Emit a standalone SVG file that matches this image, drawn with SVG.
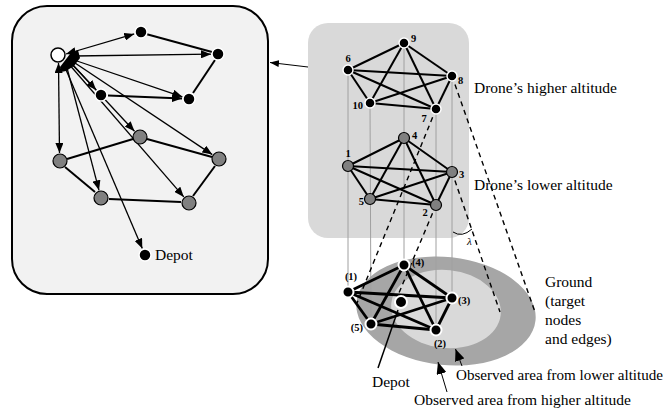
<svg xmlns="http://www.w3.org/2000/svg" width="670" height="414" viewBox="0 0 670 414">
<defs>
<marker id="ah" markerUnits="userSpaceOnUse" markerWidth="10" markerHeight="8" refX="10" refY="4" orient="auto-start-reverse">
<path d="M0,0 L10,4 L0,8 z" fill="#000"/>
</marker>
<marker id="ahs" markerUnits="userSpaceOnUse" markerWidth="9" markerHeight="7" refX="9" refY="3.5" orient="auto">
<path d="M0,0 L9,3.5 L0,7 z" fill="#000"/>
</marker>
<marker id="ahb" markerUnits="userSpaceOnUse" markerWidth="12" markerHeight="10" refX="12" refY="5" orient="auto">
<path d="M0,0 L12,5 L0,10 z" fill="#000"/>
</marker>
</defs>
<style>
.txt{font-family:"Liberation Serif","Times New Roman",serif;font-size:15.5px;fill:#000}
.num{font-family:"Liberation Serif","Times New Roman",serif;font-size:10.5px;font-weight:bold;fill:#000}
.ray{stroke:#000;stroke-width:1.3;fill:none;marker-end:url(#ah)}
.tour{stroke:#000;stroke-width:2;fill:none}
.k5{stroke:#000;stroke-width:2;fill:none}
.gk5{stroke:#000;stroke-width:2.8;fill:none}
.vert{stroke:#a0a0a0;stroke-width:1;fill:none}
.dash{stroke:#000;stroke-width:1.4;fill:none;stroke-dasharray:5 4}
.bn{fill:#000;stroke:#fff;stroke-width:1.5}
.gn{fill:#808080;stroke:#000;stroke-width:1.2}
.wn{fill:#fff;stroke:#000;stroke-width:1.5}
.gbn{fill:#000;stroke:#fff;stroke-width:2}
</style>

<!-- backgrounds -->
<g id="left-panel">
<rect x="12" y="6" width="256" height="288" rx="35" ry="35" fill="#f2f2f2" stroke="#000" stroke-width="2"/>
</g>
<g id="altitude-panel">
<rect x="308" y="23" width="161" height="215" rx="20" ry="20" fill="#d9d9d9"/>
</g>
<g id="ground-areas">
<ellipse cx="446" cy="311" rx="90" ry="54" fill="#a6a6a6" transform="rotate(6 446 311)"/>
<ellipse cx="446" cy="309" rx="55" ry="39" fill="#d9d9d9" transform="rotate(6 446 309)"/>
</g>

<!-- connectors -->
<g id="connectors">
<!-- left panel rays -->
<line class="ray" x1="74" y1="56" x2="211" y2="54.2"/>
<line class="ray" x1="74" y1="60" x2="182.4" y2="96.8"/>
<line class="ray" x1="70" y1="62" x2="96.2" y2="89.9"/>
<line class="ray" x1="70" y1="62" x2="134.5" y2="131.2"/>
<line class="ray" x1="72" y1="61" x2="212.3" y2="154.6"/>
<line class="ray" x1="66" y1="64" x2="99" y2="190.3"/>
<line class="ray" x1="68" y1="63" x2="183.8" y2="196.9"/>
<line class="ray" x1="64" y1="65" x2="142.3" y2="248.6"/>
<line class="ray" x1="66" y1="54" x2="134.3" y2="33.9" style="marker-start:url(#ah)"/>
<line class="ray" x1="58.5" y1="63" x2="59.5" y2="153" style="marker-start:url(#ah)"/>
<path d="M70,54 L78,50 L80,58 L74,66 L66,71 L61,72 L60,67 Z" fill="#000"/>
<!-- left panel tour edges -->
<line class="tour" x1="146" y1="34" x2="212" y2="52"/>
<line class="tour" x1="215" y1="60" x2="193" y2="93"/>
<line class="tour" x1="108" y1="95.5" x2="182" y2="98.5" style="marker-end:url(#ah)"/>
<line class="tour" x1="67" y1="159" x2="133" y2="139"/>
<line class="tour" x1="147" y1="139" x2="212" y2="157"/>
<line class="tour" x1="65" y1="167" x2="95" y2="192"/>
<line class="tour" x1="109" y1="199" x2="181" y2="202"/>
<line class="tour" x1="215" y1="166" x2="193" y2="196"/>
<!-- arrow between panels -->
<line x1="308" y1="67" x2="270" y2="62.5" stroke="#000" stroke-width="1" marker-end="url(#ahs)"/>
<!-- vertical projection lines -->
<line class="vert" x1="348" y1="70" x2="348" y2="292"/>
<line class="vert" x1="370" y1="103" x2="371" y2="324"/>
<line class="vert" x1="404" y1="43" x2="404" y2="265"/>
<line class="vert" x1="436" y1="109" x2="436" y2="330"/>
<line class="vert" x1="452" y1="76" x2="452" y2="298"/>
<!-- cone dashed lines -->
<line class="dash" x1="436" y1="109" x2="357" y2="303"/>
<line class="dash" x1="436" y1="205" x2="396" y2="300"/>
<line class="dash" x1="452" y1="76" x2="535" y2="312"/>
<line class="dash" x1="452" y1="172" x2="500" y2="312"/>
<path d="M453,232 Q462,238 472,229" fill="none" stroke="#000" stroke-width="1"/>
<!-- higher altitude K5 -->
<g class="k5">
<line x1="404" y1="43" x2="348" y2="70"/>
<line x1="404" y1="43" x2="452" y2="76"/>
<line x1="404" y1="43" x2="370" y2="103"/>
<line x1="404" y1="43" x2="436" y2="109"/>
<line x1="348" y1="70" x2="452" y2="76"/>
<line x1="348" y1="70" x2="370" y2="103"/>
<line x1="348" y1="70" x2="436" y2="109"/>
<line x1="452" y1="76" x2="370" y2="103"/>
<line x1="452" y1="76" x2="436" y2="109"/>
<line x1="370" y1="103" x2="436" y2="109"/>
</g>
<!-- lower altitude K5 -->
<g class="k5">
<line x1="404" y1="138" x2="348" y2="166"/>
<line x1="404" y1="138" x2="452" y2="172"/>
<line x1="404" y1="138" x2="370" y2="199"/>
<line x1="404" y1="138" x2="436" y2="205"/>
<line x1="348" y1="166" x2="452" y2="172"/>
<line x1="348" y1="166" x2="370" y2="199"/>
<line x1="348" y1="166" x2="436" y2="205"/>
<line x1="452" y1="172" x2="370" y2="199"/>
<line x1="452" y1="172" x2="436" y2="205"/>
<line x1="370" y1="199" x2="436" y2="205"/>
</g>
<!-- ground K5 -->
<g class="gk5">
<line x1="404" y1="265" x2="348" y2="292"/>
<line x1="404" y1="265" x2="452" y2="298"/>
<line x1="404" y1="265" x2="371" y2="324"/>
<line x1="404" y1="265" x2="436" y2="330"/>
<line x1="348" y1="292" x2="452" y2="298"/>
<line x1="348" y1="292" x2="371" y2="324"/>
<line x1="348" y1="292" x2="436" y2="330"/>
<line x1="452" y1="298" x2="371" y2="324"/>
<line x1="452" y1="298" x2="436" y2="330"/>
<line x1="371" y1="324" x2="436" y2="330"/>
</g>
<!-- label pointers -->
<line x1="398" y1="310" x2="378" y2="368" stroke="#000" stroke-width="1.5"/>
<line x1="462" y1="366" x2="455.5" y2="349" stroke="#000" stroke-width="1" marker-end="url(#ahb)"/>
<line x1="447" y1="392" x2="438" y2="362" stroke="#000" stroke-width="1" marker-end="url(#ahb)"/>
</g>

<!-- left panel nodes -->
<g id="node-start"><circle class="wn" cx="58" cy="55" r="7"/></g>
<g id="node-a"><circle class="bn" cx="141" cy="32" r="6"/></g>
<g id="node-b"><circle class="bn" cx="218" cy="54" r="6"/></g>
<g id="node-c"><circle class="bn" cx="189" cy="99" r="6"/></g>
<g id="node-d"><circle class="bn" cx="101" cy="95" r="6"/></g>
<g id="node-e"><circle class="gn" cx="140" cy="137" r="7"/></g>
<g id="node-f"><circle class="gn" cx="60" cy="161" r="7"/></g>
<g id="node-g"><circle class="gn" cx="219" cy="159" r="7"/></g>
<g id="node-h"><circle class="gn" cx="101" cy="198" r="7"/></g>
<g id="node-i"><circle class="gn" cx="189" cy="203" r="7"/></g>
<g id="node-depot-left"><circle class="bn" cx="145" cy="255" r="6"/><text class="txt" x="155" y="260">Depot</text></g>

<!-- higher altitude nodes -->
<g id="node-9"><circle class="bn" cx="404" cy="43" r="5"/><text class="num" x="411" y="42">9</text></g>
<g id="node-6"><circle class="bn" cx="348" cy="70" r="5"/><text class="num" x="348" y="62" text-anchor="middle">6</text></g>
<g id="node-8"><circle class="bn" cx="452" cy="76" r="5"/><text class="num" x="458" y="84">8</text></g>
<g id="node-10"><circle class="bn" cx="370" cy="103" r="5"/><text class="num" x="363" y="109" text-anchor="end">10</text></g>
<g id="node-7"><circle class="bn" cx="436" cy="109" r="5"/><text class="num" x="424" y="122" text-anchor="middle">7</text></g>

<!-- lower altitude nodes -->
<g id="node-4"><circle class="gn" cx="404" cy="138" r="5.5"/><text class="num" x="412" y="139">4</text></g>
<g id="node-1"><circle class="gn" cx="348" cy="166" r="5.5"/><text class="num" x="348" y="157" text-anchor="middle">1</text></g>
<g id="node-3"><circle class="gn" cx="452" cy="172" r="5.5"/><text class="num" x="459" y="178">3</text></g>
<g id="node-5"><circle class="gn" cx="370" cy="199" r="5.5"/><text class="num" x="364" y="205" text-anchor="end">5</text></g>
<g id="node-2"><circle class="gn" cx="436" cy="205" r="5.5"/><text class="num" x="425" y="216" text-anchor="middle">2</text></g>

<!-- ground nodes -->
<g id="node-g4"><circle class="gbn" cx="404" cy="265" r="5.5"/><text class="num" x="412" y="266">(4)</text></g>
<g id="node-g1"><circle class="gbn" cx="348" cy="292" r="5.5"/><text class="num" x="351" y="280" text-anchor="middle">(1)</text></g>
<g id="node-g3"><circle class="gbn" cx="452" cy="298" r="5.5"/><text class="num" x="458" y="304">(3)</text></g>
<g id="node-g5"><circle class="gbn" cx="371" cy="324" r="5.5"/><text class="num" x="363" y="331" text-anchor="end">(5)</text></g>
<g id="node-g2"><circle class="gbn" cx="436" cy="330" r="5.5"/><text class="num" x="440" y="347" text-anchor="middle">(2)</text></g>
<g id="node-depot-ground"><circle class="gbn" cx="401" cy="302" r="6"/></g>

<!-- labels -->
<g id="labels">
<text x="467" y="245" font-family="Liberation Serif, serif" font-style="italic" font-size="11">λ</text>
<text class="txt" x="474" y="93">Drone’s higher altitude</text>
<text class="txt" x="474" y="190">Drone’s lower altitude</text>
<text class="txt" x="545" y="287">Ground</text>
<text class="txt" x="545" y="306">(target</text>
<text class="txt" x="545" y="325">nodes</text>
<text class="txt" x="545" y="344">and edges)</text>
<text class="txt" x="372" y="387">Depot</text>
<text class="txt" x="456" y="380" style="font-size:15.1px">Observed area from lower altitude</text>
<text class="txt" x="414" y="405">Observed area from higher altitude</text>
</g>
</svg>
